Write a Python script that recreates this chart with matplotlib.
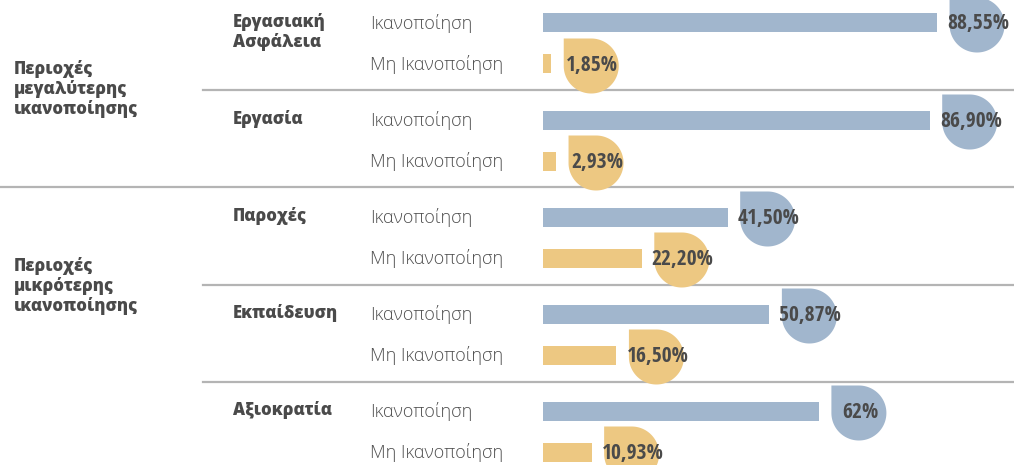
import numpy as np
import matplotlib
matplotlib.use('Agg')
import matplotlib.pyplot as plt
from matplotlib.path import Path
from matplotlib.patches import PathPatch
from matplotlib.transforms import Affine2D, ScaledTranslation

# satisfaction survey: share of satisfied / dissatisfied per area
groups = ['Περιοχές\nμεγαλύτερης\nικανοποίησης', 'Περιοχές\nμικρότερης\nικανοποίησης']
categories = ['Εργασιακή\nΑσφάλεια', 'Εργασία', 'Παροχές', 'Εκπαίδευση', 'Αξιοκρατία']
satisfied = [88.55, 86.90, 41.50, 50.87, 62.00]
dissatisfied = [1.85, 2.93, 22.20, 16.50, 10.93]
satisfied_labels = ['88,55%', '86,90%', '41,50%', '50,87%', '62%']
dissatisfied_labels = ['1,85%', '2,93%', '22,20%', '16,50%', '10,93%']
row_names = ['Ικανοποίηση', 'Μη Ικανοποίηση']

BLUE = '#a1b6cd'
YELLOW = '#edc882'
DARK = '#4a4a4a'
GREY = '#505050'
RULE = '#b4b4b4'

W, H = 1014, 465
bar_left = 543          # px where the bars start
px_per_pct = 4.45       # horizontal scale
label_font = ['Open Sans', 'DejaVu Sans']
pct_font = ['Open Sans Condensed', 'DejaVu Sans']

fig = plt.figure(figsize=(W / 100, H / 100), dpi=100)
ax = fig.add_axes([0, 0, 1, 1])
ax.set_xlim(-bar_left / px_per_pct, (W - bar_left) / px_per_pct)
ax.set_ylim(H, 0)
ax.axis('off')

# row layout (y in pixels, top down)
cat_y = 43.5 + 97 * np.arange(len(categories))
sat_y = cat_y - 20.5
dis_y = cat_y + 20.5

ax.barh(sat_y, satisfied, height=19, color=BLUE, zorder=2)
ax.barh(dis_y, dissatisfied, height=19, color=YELLOW, zorder=2)

# drop-shaped badge: circle with a square top-left corner (inches)
r = 0.275
theta = np.linspace(np.pi / 2, -np.pi, 120)
verts = np.column_stack([r * np.cos(theta), r * np.sin(theta)])
verts = np.vstack([verts, [[-r, r], [0, r]]])
drop = Path(verts, closed=True)


def badge(value, y, text, color):
    tr = (Affine2D().translate(0.40, -0.02) + fig.dpi_scale_trans
          + ScaledTranslation(value, y, ax.transData))
    ax.add_patch(PathPatch(drop, transform=tr, facecolor=color,
                           edgecolor='none', zorder=3))
    ax.annotate(text, xy=(value, y), xytext=(41, -1), textcoords='offset pixels',
                ha='center', va='center', fontsize=15.5, fontweight='bold',
                family=pct_font, color=DARK, zorder=4)


for v, y, t in zip(satisfied, sat_y, satisfied_labels):
    badge(v, y, t, BLUE)
for v, y, t in zip(dissatisfied, dis_y, dissatisfied_labels):
    badge(v, y, t, YELLOW)

tx = ax.get_yaxis_transform()
for i, name in enumerate(categories):
    ax.text(233 / W, sat_y[i] - 10, name, transform=tx, ha='left', va='top',
            fontsize=12, fontweight=800, family=label_font, color=DARK,
            linespacing=1.12)
    ax.text(370 / W, sat_y[i] + 6, row_names[0], transform=tx, ha='left',
            va='baseline', fontsize=13, fontweight='light', family=label_font,
            color=GREY)
    ax.text(370 / W, dis_y[i] + 6, row_names[1], transform=tx, ha='left',
            va='baseline', fontsize=13, fontweight='light', family=label_font,
            color=GREY)

group_y = [(cat_y[0] + cat_y[1]) / 2 - 3, (cat_y[2] + cat_y[3]) / 2]
for g, y in zip(groups, group_y):
    ax.text(14 / W, y, g, transform=tx, ha='left', va='center', fontsize=12,
            fontweight=800, family=label_font, color=DARK, linespacing=1.12)

# separators: full width between the two groups, shorter between categories
for i, y in enumerate(cat_y[:-1] + 47):
    start = 0 if i == 1 else 203 / W
    ax.plot([start, 1], [y, y], transform=tx, color=RULE, lw=1.6, zorder=1)

fig.savefig('out.png', dpi=100)
